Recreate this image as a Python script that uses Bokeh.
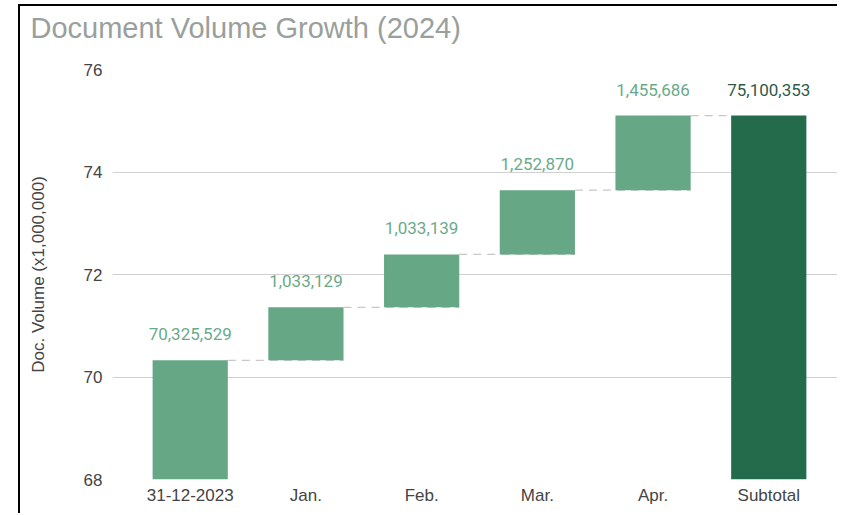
from bokeh.plotting import figure
from bokeh.models import ColumnDataSource, Range1d, FixedTicker, Title
from bokeh.core.properties import value
from bokeh.embed import file_html
from bokeh.resources import INLINE

categories = ["31-12-2023", "Jan.", "Feb.", "Mar.", "Apr.", "Subtotal"]
start_value = 70325529
monthly_increase = [1033129, 1033139, 1252870, 1455686]
y_ticks = [68, 70, 72, 74, 76]
title_text = "Document Volume Growth (2024)"

LIGHT = "#66a786"
DARK = "#246b4c"
LIGHT_TXT = "#6aaa8a"
DARK_TXT = "#2f5a48"

# build waterfall
xs = list(range(len(categories)))
bottoms, tops, colors, label_txt, label_col = [], [], [], [], []
cum = start_value
bottoms.append(0.0); tops.append(start_value / 1e6)
colors.append(LIGHT); label_txt.append(f"{start_value:,}"); label_col.append(LIGHT_TXT)
for v in monthly_increase:
    bottoms.append(cum / 1e6)
    cum += v
    tops.append(cum / 1e6)
    colors.append(LIGHT); label_txt.append(f"{v:,}"); label_col.append(LIGHT_TXT)
bottoms.append(0.0); tops.append(cum / 1e6)
colors.append(DARK); label_txt.append(f"{cum:,}"); label_col.append(DARK_TXT)

src = ColumnDataSource(dict(x=xs, bottom=bottoms, top=tops, color=colors,
                            txt=label_txt, tcol=label_col))

W = 0.65
p = figure(width=817, height=507, output_backend="svg", toolbar_location=None,
           x_range=Range1d(-0.6716, 5.594), y_range=Range1d(68, 76),
           min_border_left=92, min_border_right=2, min_border_top=63,
           min_border_bottom=36, title_location=None,
           styles={"margin-left": "18px", "margin-top": "4px",
                   "box-sizing": "content-box",
                   "border-left": "2px solid black",
                   "border-top": "2px solid black",
                   "border-right": "0px none", "border-bottom": "0px none"})

# connectors
cx0, cx1, cy = [], [], []
for i in range(len(categories) - 1):
    cx0.append(xs[i] + W / 2)
    cx1.append(xs[i + 1] + W / 2 if i + 1 < len(categories) - 1 else xs[i + 1] - W / 2)
    cy.append(tops[i])
p.segment(x0=cx0, y0=cy, x1=cx1, y1=cy, line_color="#c8c8c8", line_width=1.2,
          line_dash="8 6")

p.vbar(x="x", bottom="bottom", top="top", width=W, fill_color="color",
       line_color=None, source=src)

p.text(x="x", y="top", text="txt", text_color="tcol", source=src,
       text_align="center", text_baseline="bottom", y_offset=-20,
       text_font_size="17px", text_font=value("Roboto"))

# spacer between frame and title, then the title itself (outermost)
spacer = Title(text=" ", text_font_size="1px", standoff=21)
p.add_layout(spacer, "above")
main_title = Title(text=title_text, text_font="Liberation Sans",
                   text_font_size="29px", text_font_style="normal",
                   text_color="#999f9c", align="left", offset=-82,
                   vertical_align="top", standoff=0)
p.add_layout(main_title, "above")

p.xaxis.ticker = FixedTicker(ticks=xs)
p.xaxis.major_label_overrides = {i: c for i, c in enumerate(categories)}
p.yaxis.ticker = FixedTicker(ticks=y_ticks)
for ax in (p.xaxis, p.yaxis):
    ax.axis_line_color = None
    ax.major_tick_line_color = None
    ax.minor_tick_line_color = None
    ax.major_label_text_font = "Liberation Sans"
    ax.major_label_text_font_size = "17px"
    ax.major_label_text_color = "#444444"
p.xaxis.major_label_standoff = 0
p.yaxis.major_label_standoff = 4
p.yaxis.axis_label = "Doc. Volume (x1,000,000)"
p.yaxis.axis_label_text_font = "Liberation Sans"
p.yaxis.axis_label_text_font_size = "17px"
p.yaxis.axis_label_text_font_style = "normal"
p.yaxis.axis_label_text_color = "#444444"
p.yaxis.axis_label_standoff = 33

p.xgrid.grid_line_color = None
p.ygrid.grid_line_color = "#d0d0d0"
p.ygrid.grid_line_width = 1.2
p.outline_line_color = None

open("out.html", "w").write(file_html(p, INLINE))
